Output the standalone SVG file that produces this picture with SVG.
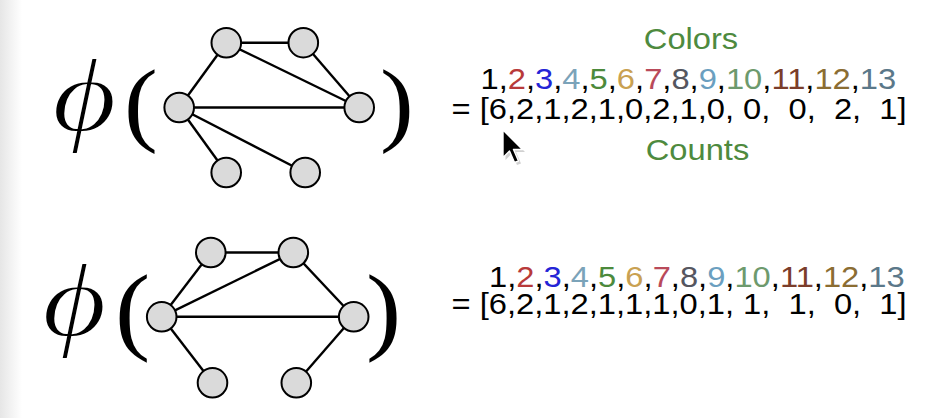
<svg xmlns="http://www.w3.org/2000/svg" width="942" height="418" viewBox="0 0 942 418">
<defs>
<linearGradient id="edge" x1="0" y1="0" x2="1" y2="0">
<stop offset="0" stop-color="#e6e6e6"/>
<stop offset="1" stop-color="#ffffff"/>
</linearGradient>
<style>
.node{fill:#dadada;stroke:#000;stroke-width:2}
.edge{stroke:#000;stroke-width:2.4;fill:none}
.math{font-family:"Liberation Serif","Times New Roman",serif;fill:#000}
.phi{font-style:italic;font-size:106px;stroke:#fff;stroke-width:2.2px}
.t{font-family:"Liberation Sans",Arial,sans-serif;font-size:30px;fill:#000;white-space:pre}
.lbl{font-family:"Liberation Sans",Arial,sans-serif;font-size:30px;fill:#4e8a3e;text-anchor:middle}
.c2{fill:#b83a3a}.c3{fill:#2424d6}.c4{fill:#7ba3b9}.c5{fill:#4c8a3c}.c6{fill:#c9a152}.c7{fill:#b94a5a}
.c8{fill:#55565f}.c9{fill:#6b9fc0}.c10{fill:#6d9a6d}.c11{fill:#7b3d2a}.c12{fill:#8b6d32}.c13{fill:#5b7889}
</style>
</defs>
<rect width="942" height="418" fill="#ffffff"/>
<rect width="22" height="418" fill="url(#edge)"/>

<!-- top formula -->
<g id="phi-top">
<text class="math phi" transform="translate(52,131) scale(1.18,1)">ϕ</text>
<text class="math" font-size="93" transform="translate(124,134) scale(1.09,1)">(</text>
<text class="math" font-size="93" transform="translate(380,134) scale(1.09,1)">)</text>
</g>
<g id="edges-top">
<line class="edge" x1="226.3" y1="42.8" x2="303.3" y2="42.7"/>
<line class="edge" x1="226.3" y1="42.8" x2="179.2" y2="107.5"/>
<line class="edge" x1="226.3" y1="42.8" x2="359.2" y2="107.5"/>
<line class="edge" x1="303.3" y1="42.7" x2="359.2" y2="107.5"/>
<line class="edge" x1="179.2" y1="107.5" x2="359.2" y2="107.5"/>
<line class="edge" x1="179.2" y1="107.5" x2="226.2" y2="172.5"/>
<line class="edge" x1="179.2" y1="107.5" x2="305.2" y2="172.5"/>
</g>
<g id="t-a"><circle class="node" cx="226.3" cy="42.8" r="14.8"/></g>
<g id="t-b"><circle class="node" cx="303.3" cy="42.7" r="14.8"/></g>
<g id="t-c"><circle class="node" cx="179.2" cy="107.5" r="14.8"/></g>
<g id="t-d"><circle class="node" cx="359.2" cy="107.5" r="14.8"/></g>
<g id="t-e"><circle class="node" cx="226.2" cy="172.5" r="14.8"/></g>
<g id="t-f"><circle class="node" cx="305.2" cy="172.5" r="14.8"/></g>

<g id="vec-top">
<text class="lbl" transform="translate(691,48.5) scale(1.09,1)">Colors</text>
<text class="t" transform="translate(480.5,89) scale(1.09,1)">1,<tspan class="c2">2</tspan>,<tspan class="c3">3</tspan>,<tspan class="c4">4</tspan>,<tspan class="c5">5</tspan>,<tspan class="c6">6</tspan>,<tspan class="c7">7</tspan>,<tspan class="c8">8</tspan>,<tspan class="c9">9</tspan>,<tspan class="c10">10</tspan>,<tspan class="c11">11</tspan>,<tspan class="c12">12</tspan>,<tspan class="c13">13</tspan></text>
<text class="t" xml:space="preserve" transform="translate(451.5,119) scale(1.09,1)">= [6,2,1,2,1,0,2,1,0, 0,  0,  2,  1]</text>
<text class="lbl" transform="translate(697.5,159.5) scale(1.09,1)">Counts</text>
</g>

<!-- bottom formula -->
<g id="phi-bottom">
<text class="math phi" transform="translate(42,336) scale(1.18,1)">ϕ</text>
<text class="math" font-size="97" transform="translate(115,342) scale(1.09,1)">(</text>
<text class="math" font-size="97" transform="translate(366,342) scale(1.09,1)">)</text>
</g>
<g id="edges-bottom">
<line class="edge" x1="210.8" y1="252.5" x2="293.3" y2="252.5"/>
<line class="edge" x1="210.8" y1="252.5" x2="161.7" y2="316.8"/>
<line class="edge" x1="293.3" y1="252.5" x2="161.7" y2="316.8"/>
<line class="edge" x1="293.3" y1="252.5" x2="353.7" y2="316.8"/>
<line class="edge" x1="161.7" y1="316.8" x2="353.7" y2="316.8"/>
<line class="edge" x1="161.7" y1="316.8" x2="212.5" y2="382.8"/>
<line class="edge" x1="353.7" y1="316.8" x2="296.3" y2="382.8"/>
</g>
<g id="b-a"><circle class="node" cx="210.8" cy="252.5" r="14.8"/></g>
<g id="b-b"><circle class="node" cx="293.3" cy="252.5" r="14.8"/></g>
<g id="b-c"><circle class="node" cx="161.7" cy="316.8" r="14.8"/></g>
<g id="b-d"><circle class="node" cx="353.7" cy="316.8" r="14.8"/></g>
<g id="b-e"><circle class="node" cx="212.5" cy="382.8" r="14.8"/></g>
<g id="b-f"><circle class="node" cx="296.3" cy="382.8" r="14.8"/></g>

<g id="vec-bottom">
<text class="t" transform="translate(489,287) scale(1.09,1)">1,<tspan class="c2">2</tspan>,<tspan class="c3">3</tspan>,<tspan class="c4">4</tspan>,<tspan class="c5">5</tspan>,<tspan class="c6">6</tspan>,<tspan class="c7">7</tspan>,<tspan class="c8">8</tspan>,<tspan class="c9">9</tspan>,<tspan class="c10">10</tspan>,<tspan class="c11">11</tspan>,<tspan class="c12">12</tspan>,<tspan class="c13">13</tspan></text>
<text class="t" xml:space="preserve" transform="translate(451.5,314) scale(1.09,1)">= [6,2,1,2,1,1,1,0,1, 1,  1,  0,  1]</text>
</g>

<g id="cursor">
<polygon points="505.5,132.5 505.5,160 512,153.5 517,165 521,163.5 516,152 525,152" fill="#9a9a9a" opacity="0.45"/>
<polygon points="503,130 503,157.5 509.5,151 514.5,162.5 518.5,161 513.5,149.5 522.5,149.5" fill="#000" stroke="#fff" stroke-width="1.4" stroke-linejoin="round"/>
</g>
</svg>
